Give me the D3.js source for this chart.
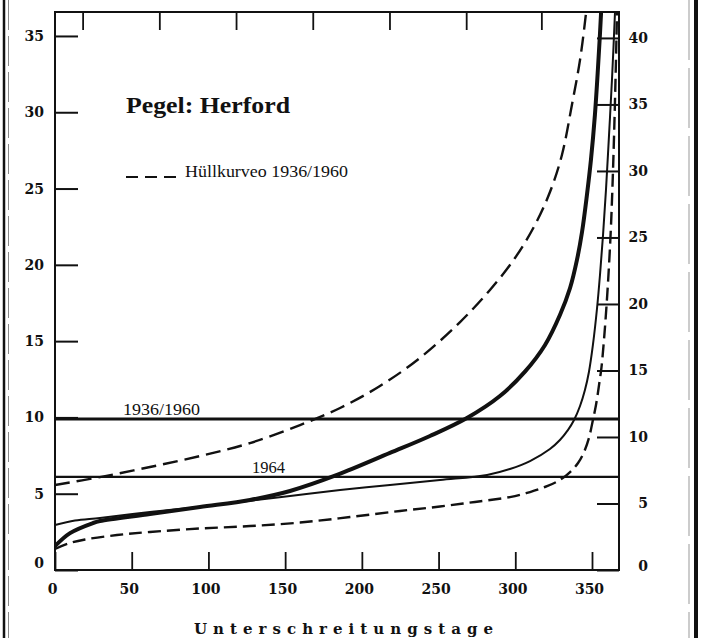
<!DOCTYPE html>
<html>
<head>
<meta charset="utf-8">
<script src="https://cdn.jsdelivr.net/npm/d3@7"></script>
<style>
  body { margin: 0; background: #fff; }
  svg { display: block; }
</style>
</head>
<body>
<svg id="chart" width="704" height="638"></svg>
<script>
// Abflussdauerlinien am Pegel Herford (Unterschreitungstage im Jahr)

// Mittlere Dauerlinie 1936/1960 (dicke Linie)
const meanDays = [0, 9.8, 24.8, 29.3, 61.9, 94.5, 127.1, 153.2, 183.8, 218.3, 244.4, 268.5, 290, 306.3, 319.4, 329.1, 335.7, 340.2, 343.5, 346.7, 349.3, 351.9, 353.9, 355.9, 357.2];
const meanFlow = [1.57, 2.42, 3.08, 3.21, 3.67, 4.13, 4.59, 5.18, 6.23, 7.67, 8.78, 9.96, 11.4, 13.0, 14.75, 16.71, 18.48, 20.32, 22.15, 24.58, 26.87, 29.82, 32.9, 36.5, 40];

// Dauerlinie 1964 (dünne Linie)
const year64Days = [0, 13, 29.3, 61.9, 94.5, 120.6, 153.2, 185.8, 218.3, 250.9, 281.6, 296.5, 309.6, 322.6, 329.1, 334.4, 338.3, 342.2, 345.4, 348, 350.6, 353.3, 355.2, 357.2, 359.1, 361.1, 363, 365, 366.3];
const year64Flow = [2.95, 3.24, 3.41, 3.8, 4.13, 4.46, 4.85, 5.24, 5.57, 5.9, 6.23, 6.62, 7.14, 7.93, 8.52, 9.18, 9.83, 10.75, 11.8, 12.98, 14.75, 17.17, 19.33, 21.96, 24.9, 28.5, 32.1, 36.57, 40];

// Obere Hüllkurve 1936/1960
const upperDays = [0, 29.3, 61.9, 94.5, 127.1, 159.7, 185.8, 211.8, 237.9, 264, 283.5, 299.8, 312.8, 322.6, 330.4, 336.9, 342.2, 346.1, 348.7];
const upperFlow = [5.57, 6.09, 6.75, 7.47, 8.32, 9.5, 10.62, 12.06, 13.9, 16.25, 18.35, 20.45, 22.61, 24.77, 27.2, 30.48, 33.43, 36.5, 39];

// Untere Hüllkurve 1936/1960
const lowerDays = [0, 9.8, 19.6, 40.4, 61.9, 94.5, 127.1, 159.7, 192.3, 224.9, 250.9, 273.7, 296.5, 309.6, 320.7, 329.1, 335.7, 340.9, 344.8, 348, 350.6, 352.6, 354.6, 356.2, 357.8, 359.5, 361.1, 362.4, 363.7, 365, 366.3, 366.9];
const lowerFlow = [1.38, 1.77, 2.0, 2.29, 2.49, 2.72, 2.88, 3.11, 3.47, 3.87, 4.16, 4.46, 4.78, 5.11, 5.5, 5.9, 6.42, 7.01, 7.73, 8.65, 9.83, 10.81, 12.13, 13.3, 15.07, 17.37, 19.99, 22.61, 26.21, 30.8, 36.57, 40];

// Waagerechte Bezugslinien
const levelNames = ["1936/1960", "1964"];
const levelValues = [9.9, 6.1];

// Achsenbeschriftung
const leftTicks = [0, 5, 10, 15, 20, 25, 30, 35];
const rightTicks = [0, 5, 10, 15, 20, 25, 30, 35, 40];
const dayTicks = [0, 50, 100, 150, 200, 250, 300, 350];
const topTicks = [18, 68, 118, 168, 218, 268, 317];

const svg = d3.select("#chart");
const ink = "#111";

const x = d3.scaleLinear().domain([0, 367.6]).range([55, 619]);
const y = d3.scaleLinear().domain([0, 36.57]).range([570, 12]);
const yR = d3.scaleLinear().domain([0, 41.95]).range([570, 12]);

// Rahmen der Seite
svg.append("line").attr("x1", 4).attr("x2", 4).attr("y1", 0).attr("y2", 638)
  .attr("stroke", ink).attr("stroke-width", 2.5);
svg.append("line").attr("x1", 8.5).attr("x2", 8.5).attr("y1", 0).attr("y2", 638)
  .attr("stroke", "#888").attr("stroke-width", 1).attr("stroke-dasharray", "30,6");
svg.append("line").attr("x1", 689).attr("x2", 689).attr("y1", 0).attr("y2", 638)
  .attr("stroke", "#999").attr("stroke-width", 1).attr("stroke-dasharray", "60,8");
svg.append("line").attr("x1", 696).attr("x2", 696).attr("y1", 0).attr("y2", 638)
  .attr("stroke", ink).attr("stroke-width", 4);

svg.append("defs").append("clipPath").attr("id", "plotClip")
  .append("rect").attr("x", 55).attr("y", 12).attr("width", 564).attr("height", 558);

const numFont = "'DejaVu Serif', serif";

// Linke Achse
const gL = svg.append("g").attr("transform", "translate(55,0)")
  .call(d3.axisLeft(y).tickValues(leftTicks).tickSize(-23).tickPadding(11).tickFormat(d3.format("d")));
gL.select(".domain").remove();
gL.selectAll(".tick line").attr("stroke", ink).attr("stroke-width", 2);
gL.selectAll(".tick text").attr("fill", ink).attr("font-family", numFont)
  .attr("font-weight", "bold").attr("font-size", 14)
  .attr("transform", d => d === 0 ? "translate(0,-7)" : null);

// Rechte Achse
const gR = svg.append("g").attr("transform", "translate(619,0)")
  .call(d3.axisRight(yR).tickValues(rightTicks).tickSize(-22).tickFormat(d3.format("d")));
gR.select(".domain").remove();
gR.selectAll(".tick line").attr("stroke", ink).attr("stroke-width", 2);
gR.selectAll(".tick text").attr("fill", ink).attr("font-family", numFont)
  .attr("font-weight", "bold").attr("font-size", 14)
  .attr("text-anchor", "end").attr("x", 29)
  .attr("transform", d => d === 0 ? "translate(0,-4)" : null);

// Untere Achse
const gB = svg.append("g").attr("transform", "translate(0,570)")
  .call(d3.axisBottom(x).tickValues(dayTicks).tickSize(-18).tickPadding(14).tickFormat(d3.format("d")));
gB.select(".domain").remove();
gB.selectAll(".tick line").attr("stroke", ink).attr("stroke-width", 1.8);
gB.selectAll(".tick text").attr("fill", ink).attr("font-family", numFont)
  .attr("font-weight", "bold").attr("font-size", 14)
  .attr("transform", "translate(-3,0)");

// Obere Achse (nur Striche)
const gT = svg.append("g").attr("transform", "translate(0,12)")
  .call(d3.axisTop(x).tickValues(topTicks).tickSize(-18).tickFormat(""));
gT.select(".domain").remove();
gT.selectAll(".tick line").attr("stroke", ink).attr("stroke-width", 1.8);

// Diagrammrahmen
svg.append("rect").attr("x", 55).attr("y", 12).attr("width", 564).attr("height", 558)
  .attr("fill", "none").attr("stroke", ink).attr("stroke-width", 2);

const plot = svg.append("g").attr("clip-path", "url(#plotClip)");

// Bezugslinien
plot.selectAll("line.level").data(levelValues).join("line")
  .attr("class", "level")
  .attr("x1", x(0)).attr("x2", x(367.6))
  .attr("y1", d => y(d)).attr("y2", d => y(d))
  .attr("stroke", ink).attr("stroke-width", (d, i) => i === 0 ? 3 : 2.2);

const line = d3.line().x(d => x(d[0])).y(d => y(d[1])).curve(d3.curveCatmullRom.alpha(0.5));
const zip = (a, b) => a.map((d, i) => [d, b[i]]);

plot.append("path").datum(zip(upperDays, upperFlow)).attr("d", line)
  .attr("fill", "none").attr("stroke", ink).attr("stroke-width", 2.4).attr("stroke-dasharray", "15,7");
plot.append("path").datum(zip(lowerDays, lowerFlow)).attr("d", line)
  .attr("fill", "none").attr("stroke", ink).attr("stroke-width", 2.4).attr("stroke-dasharray", "13,6");
plot.append("path").datum(zip(year64Days, year64Flow)).attr("d", line)
  .attr("fill", "none").attr("stroke", ink).attr("stroke-width", 2);
plot.append("path").datum(zip(meanDays, meanFlow)).attr("d", line)
  .attr("fill", "none").attr("stroke", ink).attr("stroke-width", 4);

// Beschriftung der Bezugslinien
const serif = "'Liberation Serif', 'Times New Roman', serif";
svg.append("text").attr("x", 123).attr("y", y(levelValues[0]) - 4)
  .attr("font-family", serif).attr("font-size", 16).attr("fill", ink)
  .attr("textLength", 77).attr("lengthAdjust", "spacingAndGlyphs")
  .text(levelNames[0]);
svg.append("text").attr("x", 252).attr("y", y(levelValues[1]) - 4)
  .attr("font-family", serif).attr("font-size", 16).attr("fill", ink)
  .attr("textLength", 33).attr("lengthAdjust", "spacingAndGlyphs")
  .text(levelNames[1]);

// Titel
const title = svg.append("text").attr("x", 126).attr("y", 113)
  .attr("font-family", serif).attr("font-size", 24).attr("font-weight", "bold").attr("fill", ink)
  .attr("textLength", 164).attr("lengthAdjust", "spacingAndGlyphs");
title.append("tspan").text("Pegel: ");
title.append("tspan").text("Herford");

// Legende
svg.append("line").attr("x1", 126).attr("x2", 177).attr("y1", 177).attr("y2", 177)
  .attr("stroke", ink).attr("stroke-width", 2).attr("stroke-dasharray", "12,7");
svg.append("text").attr("x", 185).attr("y", 177)
  .attr("font-family", serif).attr("font-size", 17).attr("fill", ink)
  .attr("textLength", 163).attr("lengthAdjust", "spacingAndGlyphs")
  .text("Hüllkurveo 1936/1960");

// Titel der x-Achse
svg.append("text").attr("x", 194).attr("y", 634)
  .attr("font-family", numFont).attr("font-size", 15).attr("font-weight", "bold").attr("fill", ink)
  .attr("textLength", 299).attr("lengthAdjust", "spacing")
  .text("Unterschreitungstage");
</script>
</body>
</html>
